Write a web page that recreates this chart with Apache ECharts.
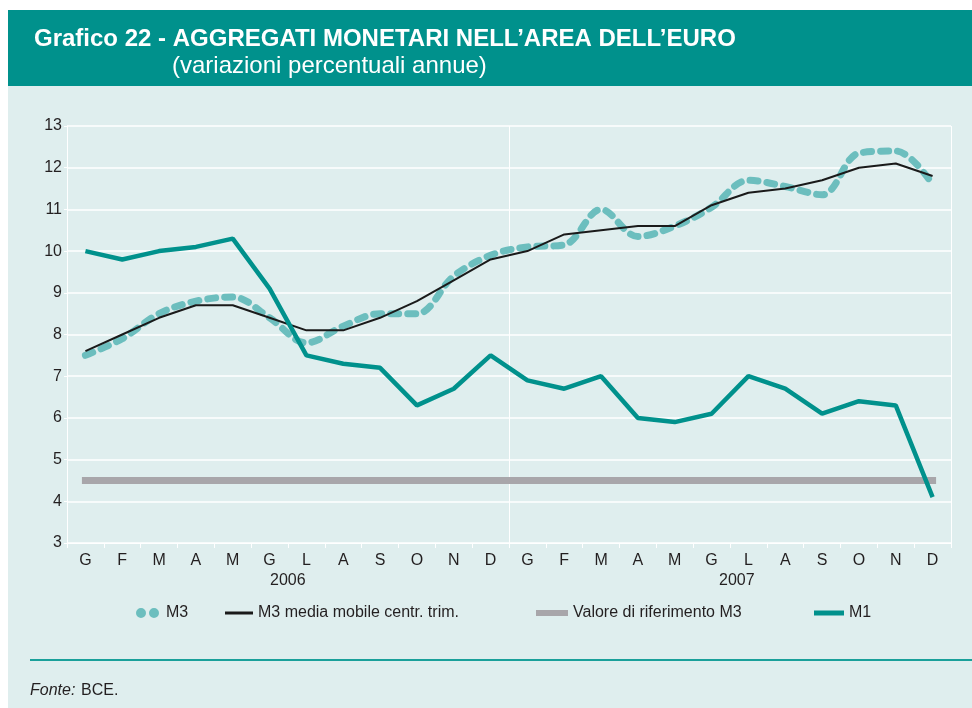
<!DOCTYPE html>
<html>
<head>
<meta charset="utf-8">
<script src="https://cdn.jsdelivr.net/npm/echarts@6/dist/echarts.min.js"></script>
<style>
  html, body { margin: 0; padding: 0; background: #fff; }
  #chart { width: 972px; height: 708px; }
</style>
</head>
<body>
<div id="chart"></div>
<script>
  // mesi (G F M A M G L A S O N D) per 2006 e 2007
  var mesi = ['G','F','M','A','M','G','L','A','S','O','N','D',
              'G','F','M','A','M','G','L','A','S','O','N','D'];
  var anni = ['2006', '2007'];

  var m3 = [7.5, 7.9, 8.5, 8.8, 8.9, 8.4, 7.8, 8.2, 8.5, 8.5, 9.4, 9.9,
            10.1, 10.15, 11.0, 10.35, 10.6, 11.05, 11.7, 11.55, 11.35, 12.35, 12.4, 11.6];
  var m3Media = [7.6, 8.0, 8.4, 8.7, 8.7, 8.4, 8.1, 8.1, 8.4, 8.8, 9.3, 9.8,
                 10.0, 10.4, 10.5, 10.6, 10.6, 11.1, 11.4, 11.5, 11.7, 12.0, 12.1, 11.8];
  var riferimento = [4.5, 4.5, 4.5, 4.5, 4.5, 4.5, 4.5, 4.5, 4.5, 4.5, 4.5, 4.5,
                     4.5, 4.5, 4.5, 4.5, 4.5, 4.5, 4.5, 4.5, 4.5, 4.5, 4.5, 4.5];
  var m1 = [10.0, 9.8, 10.0, 10.1, 10.3, 9.1, 7.5, 7.3, 7.2, 6.3, 6.7, 7.5,
            6.9, 6.7, 7.0, 6.0, 5.9, 6.1, 7.0, 6.7, 6.1, 6.4, 6.3, 4.1];

  var teal = '#00918c';
  var tealChiaro = '#6cbebe';
  var grigio = '#a8a6aa';
  var sfondo = '#dfeeee';
  var testo = '#231f20';
  var font = '"Liberation Sans", Arial, sans-serif';

  var chart = echarts.init(document.getElementById('chart'));

  // una legenda per voce, per posizionarle come nell'originale
  function legenda(nome, left, w, h, icona) {
    return {
      data: [nome],
      left: left,
      top: 605,
      padding: 0,
      icon: icona,
      itemWidth: w,
      itemHeight: h,
      selectedMode: false,
      textStyle: { fontFamily: font, fontSize: 16, color: testo }
    };
  }

  var dueCerchi = 'path://M0,5a5,5 0 1,0 10,0a5,5 0 1,0 -10,0zM13,5a5,5 0 1,0 10,0a5,5 0 1,0 -10,0z';

  var option = {
    animation: false,
    backgroundColor: '#fff',
    graphic: [
      { type: 'rect', z: -10, shape: { x: 8, y: 86, width: 964, height: 622 }, style: { fill: sfondo } },
      { type: 'rect', z: -10, shape: { x: 8, y: 10, width: 964, height: 76 }, style: { fill: teal } },
      { type: 'text', left: 34, top: 27, style: { text: 'Grafico 22 - AGGREGATI MONETARI NELL\u2019AREA DELL\u2019EURO', fill: '#fff', font: 'bold 24px ' + font } },
      { type: 'text', left: 172, top: 54, style: { text: '(variazioni percentuali annue)', fill: '#fff', font: '24px ' + font } },
      { type: 'text', left: 270, top: 573, style: { text: anni[0], fill: testo, font: '16px ' + font } },
      { type: 'text', left: 719, top: 573, style: { text: anni[1], fill: testo, font: '16px ' + font } },
      { type: 'rect', shape: { x: 30, y: 659, width: 942, height: 2 }, style: { fill: '#19a09a' } },
      { type: 'text', left: 30, top: 683, style: { text: 'Fonte:', fill: testo, font: 'italic 16px ' + font } },
      { type: 'text', left: 81, top: 683, style: { text: 'BCE.', fill: testo, font: '16px ' + font } }
    ],
    legend: [
      legenda('M3', 136, 27, 10, dueCerchi),
      legenda('M3 media mobile centr. trim.', 225, 28, 3, 'rect'),
      legenda('Valore di riferimento M3', 536, 32, 6, 'rect'),
      legenda('M1', 814, 30, 5, 'rect')
    ],
    grid: { left: 67, right: 21, top: 126, bottom: 165 },
    xAxis: [
      {
        type: 'category',
        data: mesi,
        boundaryGap: true,
        axisLine: { lineStyle: { color: '#fff', width: 1 } },
        axisTick: { show: true, length: 5, lineStyle: { color: '#fff' } },
        axisLabel: { color: testo, fontFamily: font, fontSize: 16, margin: 10, interval: 0 },
        splitLine: { show: false }
      },
      {
        type: 'value',
        min: 0, max: 24, interval: 12,
        position: 'top',
        axisLine: { show: false },
        axisTick: { show: false },
        axisLabel: { show: false },
        splitLine: { show: true, lineStyle: { color: '#fff', width: 1 } }
      }
    ],
    yAxis: {
      type: 'value',
      min: 3, max: 13, interval: 1,
      axisLine: { show: true, lineStyle: { color: '#fff' } },
      axisTick: { show: true, length: 3, lineStyle: { color: '#fff' } },
      axisLabel: { color: testo, fontFamily: font, fontSize: 16, margin: 5 },
      splitLine: { lineStyle: { color: '#fff', width: 1.5 } }
    },
    series: [
      {
        name: 'M3', type: 'line', data: m3, smooth: 0.35, symbol: 'none',
        lineStyle: { color: tealChiaro, width: 7, type: [8, 9], cap: 'round', join: 'round' },
        itemStyle: { color: tealChiaro }
      },
      {
        name: 'M3 media mobile centr. trim.', type: 'line', data: m3Media, symbol: 'none',
        lineStyle: { color: '#1a1a1a', width: 2 },
        itemStyle: { color: '#1a1a1a' }
      },
      {
        name: 'Valore di riferimento M3', type: 'line', data: riferimento, symbol: 'none',
        lineStyle: { color: grigio, width: 7, cap: 'square' },
        itemStyle: { color: grigio }
      },
      {
        name: 'M1', type: 'line', data: m1, symbol: 'none',
        lineStyle: { color: teal, width: 4.5 },
        itemStyle: { color: teal }
      }
    ]
  };

  chart.setOption(option);
</script>
</body>
</html>
